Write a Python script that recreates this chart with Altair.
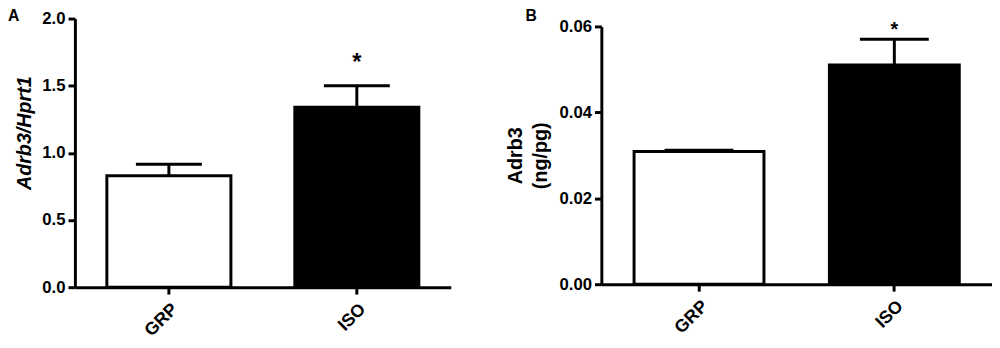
import altair as alt
import pandas as pd

groups = ["GRP", "ISO"]
fills = ["white", "black"]

# Panel A: Adrb3/Hprt1
a_mean = [0.83, 1.34]
a_upper = [0.915, 1.50]
a_ticks = [0.0, 0.5, 1.0, 1.5, 2.0]
a_sig = ["", "*"]

# Panel B: Adrb3 (ng/pg)
b_mean = [0.0309, 0.0510]
b_upper = [0.0312, 0.0570]
b_ticks = [0.00, 0.02, 0.04, 0.06]
b_sig = ["", "*"]

FONT = "Liberation Sans"

dfa = pd.DataFrame({"group": groups, "mean": a_mean, "upper": a_upper, "sig": a_sig})
dfb = pd.DataFrame({"group": groups, "mean": b_mean, "upper": b_upper, "sig": b_sig})

color = alt.Color("group:N", scale=alt.Scale(domain=groups, range=fills), legend=None)


def panel(df, ticks, dmax, fmt, ytitle, w, h, cap, bar_pad, letter, lx, ly,
          title_style, title_size, title_pad, title_y, star_size, star_dy):
    xscale = alt.Scale(paddingInner=bar_pad, paddingOuter=bar_pad / 2)
    xaxis = alt.Axis(title=None, labelAngle=-45, labelFontSize=18, labelPadding=6)
    yscale = alt.Scale(domain=[0, dmax], nice=False, zero=True)
    yargs = dict(values=ticks, format=fmt, title=ytitle,
                 titleFontStyle=title_style, titleFontSize=title_size,
                 titlePadding=title_pad, labelFontSize=17, titleLineHeight=25)
    if title_y is not None:
        yargs["titleY"] = title_y
    yaxis = alt.Axis(**yargs)
    X = alt.X("group:N", sort=groups, scale=xscale, axis=xaxis)
    base = alt.Chart(df)
    bars = base.mark_bar(stroke="black", strokeWidth=3, strokeJoin="miter").encode(
        x=X, y=alt.Y("mean:Q", scale=yscale, axis=yaxis), fill=color)
    err = base.mark_rule(color="black", strokeWidth=3).encode(
        x=X, y=alt.Y("mean:Q", scale=yscale, axis=yaxis), y2="upper:Q")
    capm = base.mark_tick(color="black", size=cap, thickness=3, opacity=1).encode(
        x=X, y=alt.Y("upper:Q", scale=yscale, axis=yaxis))
    star = base.mark_text(font=FONT, fontSize=star_size, fontWeight="bold",
                          baseline="alphabetic", dy=star_dy, color="black").encode(
        x=X, y=alt.Y("upper:Q", scale=yscale, axis=yaxis), text="sig:N")
    lab = alt.Chart(pd.DataFrame({"t": [letter]})).mark_text(
        font=FONT, fontSize=16, fontWeight="bold", align="left", baseline="top",
        color="black").encode(x=alt.value(lx), y=alt.value(ly), text="t:N")
    return alt.layer(bars, err, capm, star, lab).properties(width=w, height=h)


pa = panel(dfa, a_ticks, 2.0, ".1f", "Adrb3/Hprt1", 382, 273, 67, 0.34, "A", -68, -11,
           "italic", 20, 7, 116, 24, -16)
pb = panel(dfb, b_ticks, 0.06, ".2f", ["Adrb3", "(ng/pg)"], 397, 262, 70, 0.335, "B", -77, -19,
           "normal", 20, 9, None, 20, -3)

spacer = alt.Chart(pd.DataFrame({"v": [0]})).mark_point(opacity=0).encode(
    x=alt.value(0), y=alt.value(0)).properties(width=10, height=8)

pb_col = alt.vconcat(spacer, pb, spacing=0, bounds="flush")

chart = alt.hconcat(pa, pb_col, spacing=55).properties(
    padding={"left": 0, "top": -3, "right": 0, "bottom": 0}
).configure_view(stroke=None).configure_axis(
    grid=False, domainColor="black", domainWidth=3, tickColor="black", tickWidth=3,
    tickSize=7, labelFont=FONT, labelFontWeight="bold", labelColor="black",
    titleFont=FONT, titleFontWeight="bold", titleColor="black", labelPadding=3,
    labelFontSize=17
)

chart.save("out.html", embed_options={"renderer": "svg", "actions": False})
